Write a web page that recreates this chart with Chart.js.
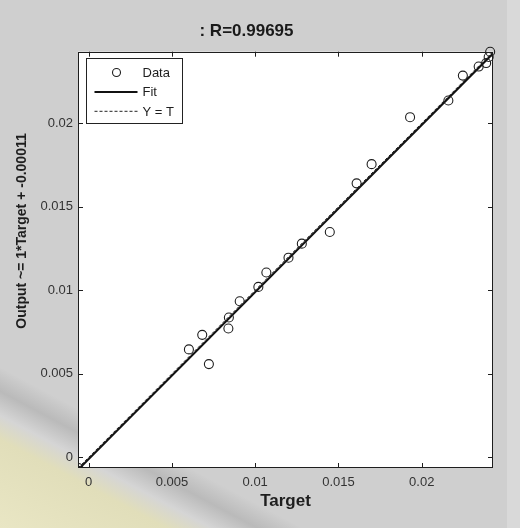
<!DOCTYPE html>
<html>
<head>
<meta charset="utf-8">
<script src="https://cdn.jsdelivr.net/npm/chart.js@4/dist/chart.umd.min.js"></script>
<style>
  html, body { margin: 0; padding: 0; }
  body {
    width: 520px; height: 528px; overflow: hidden;
    background:
      linear-gradient(90deg, rgba(0,0,0,0) 507px, #d9d9d9 507px),
      linear-gradient(208deg, #cfcfcf 0%, #cfcfcf 80%, #bababa 83%, #d5d5d5 86%, #e1deba 89%, #e9e6c4 100%);
  }
</style>
</head>
<body>
<canvas id="regression" width="520" height="528"></canvas>
<script>
// values
const targets = [-0.00062, 0.00602, 0.00722, 0.00682, 0.00842, 0.00839, 0.00907, 0.01019, 0.01067, 0.0120, 0.0128,
  0.01448, 0.01609, 0.01699, 0.0193, 0.0216, 0.02247, 0.02342, 0.02387, 0.02402, 0.02411];
const outputs = [-0.00064, 0.00646, 0.00558, 0.00733, 0.00837, 0.00771, 0.00934, 0.0102, 0.01106, 0.01195, 0.01279,
  0.01349, 0.0164, 0.01755, 0.02036, 0.02136, 0.02285, 0.02339, 0.0236, 0.02396, 0.02428];

// fit: Output ~= 1*Target - 0.00011, drawn across the axis limits
const fitX = [-0.00064, 0.02428];
const fitY = [-0.00075, 0.02417];
const identX = [-0.00064, 0.02428];
const identY = [-0.00064, 0.02428];

const tickValues = [0, 0.005, 0.01, 0.015, 0.02];
const axisMin = -0.00064;
const axisMax = 0.02428;
const yTitle = 'Output ~= 1*Target + -0.00011';

const FONT = "'Liberation Sans', Arial, sans-serif";

const toPoints = (xs, ys) => xs.map((v, i) => ({x: v, y: ys[i]}));

// white axes background
const axesBg = {
  id: 'axesBg',
  beforeDraw(chart) {
    const {ctx, chartArea: a} = chart;
    ctx.save();
    ctx.fillStyle = '#fff';
    ctx.fillRect(a.left, a.top, a.width, a.height);
    ctx.restore();
  }
};

// matlab style box, inward ticks, ylabel and boxed legend
const frame = {
  id: 'frame',
  afterDatasetsDraw(chart) {
    const {ctx, chartArea: a, scales: {x, y}} = chart;
    ctx.save();
    ctx.strokeStyle = '#1e1e1e';
    ctx.lineWidth = 1;
    ctx.strokeRect(Math.round(a.left) + 0.5, Math.round(a.top) + 0.5, Math.round(a.width) - 1, Math.round(a.height) - 1);
    ctx.beginPath();
    x.ticks.forEach(t => {
      const px = Math.round(x.getPixelForValue(t.value)) + 0.5;
      ctx.moveTo(px, a.bottom); ctx.lineTo(px, a.bottom - 5);
      ctx.moveTo(px, a.top); ctx.lineTo(px, a.top + 5);
    });
    y.ticks.forEach(t => {
      const py = Math.round(y.getPixelForValue(t.value)) + 0.5;
      ctx.moveTo(a.left, py); ctx.lineTo(a.left + 5, py);
      ctx.moveTo(a.right, py); ctx.lineTo(a.right - 5, py);
    });
    ctx.stroke();

    // ylabel sits a bit above the axes middle in the original
    ctx.save();
    ctx.translate(22.5, 231);
    ctx.rotate(-Math.PI / 2);
    ctx.font = 'bold 14px ' + FONT;
    ctx.fillStyle = '#1e1e1e';
    ctx.textAlign = 'center';
    ctx.textBaseline = 'middle';
    ctx.fillText(yTitle, 0, 0);
    ctx.restore();

    // legend
    const bx = Math.round(a.left + 8) + 0.5, by = Math.round(a.top + 6) + 0.5;
    ctx.fillStyle = '#fff';
    ctx.fillRect(bx, by, 96, 65);
    ctx.strokeStyle = '#222';
    ctx.strokeRect(bx, by, 96, 65);
    const ds = chart.data.datasets;
    ctx.font = '13px ' + FONT;
    ctx.textBaseline = 'middle';
    ds.forEach((d, i) => {
      const ry = by + 14 + i * 19.4;
      if (i === 0) {
        ctx.beginPath();
        ctx.lineWidth = 1.1;
        ctx.strokeStyle = d.pointBorderColor;
        ctx.arc(bx + 30, ry, 4, 0, Math.PI * 2);
        ctx.stroke();
      } else {
        ctx.beginPath();
        ctx.lineWidth = d.borderWidth;
        ctx.strokeStyle = d.borderColor;
        ctx.setLineDash(d.borderDash || []);
        ctx.moveTo(bx + 8, ry); ctx.lineTo(bx + 51, ry);
        ctx.stroke();
        ctx.setLineDash([]);
      }
      ctx.fillStyle = '#1e1e1e';
      ctx.fillText(d.label, bx + 56, ry + 1);
    });
    ctx.restore();
  }
};

new Chart(document.getElementById('regression'), {
  type: 'scatter',
  data: {
    datasets: [
      {
        label: 'Data',
        data: toPoints(targets, outputs),
        pointRadius: 4.5,
        pointBorderWidth: 1.1,
        pointBorderColor: '#1e1e1e',
        pointBackgroundColor: 'rgba(0,0,0,0)',
        clip: {left: 0, bottom: 0, top: 6, right: 6}
      },
      {
        label: 'Fit',
        data: toPoints(fitX, fitY),
        showLine: true,
        pointRadius: 0,
        borderColor: '#111',
        borderWidth: 2
      },
      {
        label: 'Y = T',
        data: toPoints(identX, identY),
        showLine: true,
        pointRadius: 0,
        borderColor: '#222',
        borderWidth: 1,
        borderDash: [3, 2]
      }
    ]
  },
  options: {
    responsive: false,
    animation: false,
    layout: {padding: {left: 0, right: 27, top: 0, bottom: 0}},
    plugins: {
      legend: {display: false},
      tooltip: {enabled: false},
      title: {
        display: true,
        text: ': R=0.99695',
        color: '#1a1a1a',
        font: {family: FONT, size: 17, weight: 'bold'},
        padding: {top: 21, bottom: 10.3}
      }
    },
    scales: {
      x: {
        type: 'linear',
        min: axisMin,
        max: axisMax,
        afterBuildTicks: s => { s.ticks = tickValues.map(v => ({value: v})); },
        afterFit: s => { s.height = 60; },
        grid: {display: false, drawTicks: false},
        border: {display: false},
        ticks: {padding: 7, color: '#333', font: {family: FONT, size: 13}, callback: v => String(v)},
        title: {display: true, text: 'Target', color: '#1e1e1e', font: {family: FONT, size: 17, weight: 'bold'}, padding: {top: 0, bottom: 16}}
      },
      y: {
        type: 'linear',
        min: axisMin,
        max: axisMax,
        afterBuildTicks: s => { s.ticks = tickValues.map(v => ({value: v})); },
        afterFit: s => { s.width = 78; },
        grid: {display: false, drawTicks: false},
        border: {display: false},
        ticks: {padding: 5, color: '#333', font: {family: FONT, size: 13}, callback: v => String(v)},
        title: {display: false}
      }
    }
  },
  plugins: [axesBg, frame]
});
</script>
</body>
</html>
